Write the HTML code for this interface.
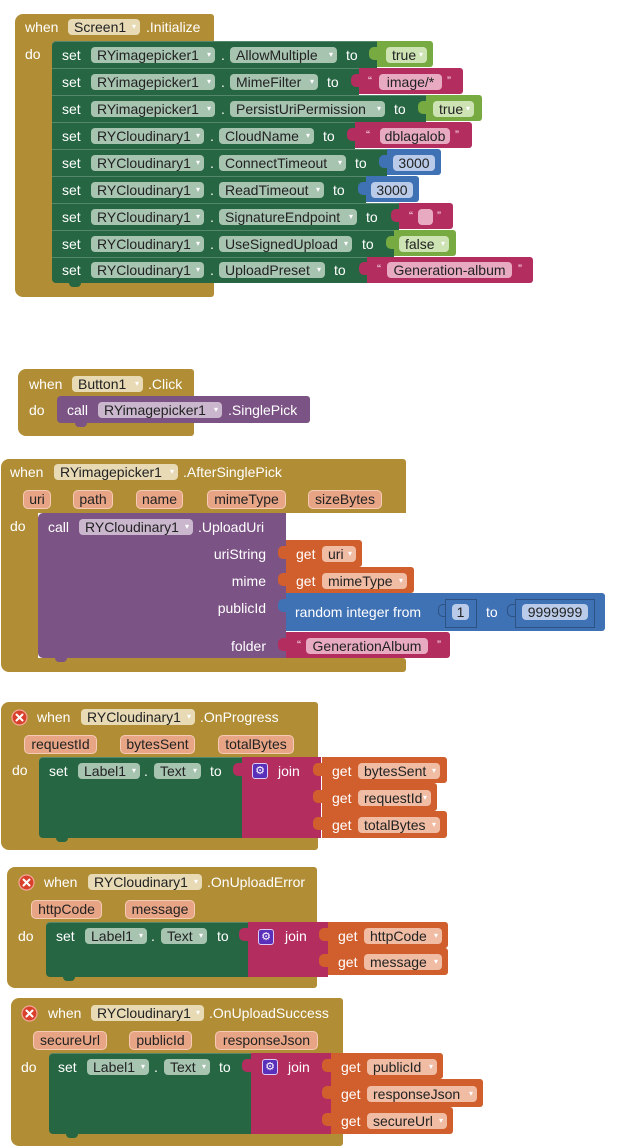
<!DOCTYPE html>
<html><head><meta charset="utf-8">
<style>
*{box-sizing:border-box}
body{margin:0;width:631px;height:1147px;background:#fff;position:relative;overflow:hidden;font-family:"Liberation Sans",Arial,sans-serif;font-size:14px}
div{position:absolute}
.t{color:#fff;line-height:16px;height:16px;white-space:nowrap}
.c{height:16px;line-height:16px;border-radius:4px;color:#222;padding-left:6px;white-space:nowrap}
.c i{position:absolute;right:4px;top:0;font-style:normal;font-family:"DejaVu Sans",sans-serif;font-size:8px;color:#fff}
.n{padding-left:0;text-align:center}
.p{height:19px;line-height:17px;border-radius:5px;background:#e8a586;border:1px solid #f5cbb6;color:#222;text-align:center;white-space:nowrap}
.q{color:#fbe3ec;font-size:12px;line-height:16px;height:16px}
.G{background:#b18e35}
.S{background:#266643;box-shadow:inset 0 1px 0 rgba(255,255,255,.22)}
.P{background:#7c5385}
.O{background:#d05f2d}
.M{background:#b32d5e}
.B{background:#3f71b5}
.L{background:#77ab41}
.cG{background:#e7dab5}
.cS{background:#a7c4b1}
.cP{background:#cab7ce}
.cO{background:#f0bca3}
.cM{background:#e8aac1}
.cB{background:#b9cbe8}
.cL{background:#cde3b4}
.tab{width:9px;height:13px;border-radius:5px 0 0 5px}
.nb{border:1px solid rgba(0,0,0,.28)}
.gear{width:16px;height:16px;background:#5a2fb9;border:1px solid #d9ccf7;border-radius:3px;color:#fff;font-family:"DejaVu Sans",sans-serif;font-size:11px;line-height:14px;text-align:center}
.notch{width:12px;height:4px;border-radius:0 0 4px 4px}
</style></head><body>

<!-- Block 1: Screen1.Initialize -->
<div class="G" style="left:15px;top:14px;width:199px;height:283px;border-radius:8px 3px 3px 8px"></div>
<div class="t" style="left:25px;top:19px">when</div>
<div class="c cG" style="left:68px;top:19px;width:72px">Screen1<i>▾</i></div>
<div class="t" style="left:146px;top:19px">.Initialize</div>
<div class="t" style="left:25px;top:46px">do</div>

<!-- R1 -->
<div class="S" style="left:52px;top:41px;width:325px;height:27px;border-radius:4px 0 0 0"></div>
<div class="t" style="left:62px;top:47px">set</div>
<div class="c cS" style="left:91px;top:47px;width:124px">RYimagepicker1<i>▾</i></div>
<div class="t" style="left:221px;top:47px">.</div>
<div class="c cS" style="left:230px;top:47px;width:107px">AllowMultiple<i>▾</i></div>
<div class="t" style="left:346px;top:47px">to</div>
<div class="tab L" style="left:369px;top:47px"></div>
<div class="L" style="left:377px;top:41px;width:56px;height:26px;border-radius:0 3px 3px 0"></div>
<div class="c cL" style="left:386px;top:47px;width:41px">true<i>▾</i></div>

<!-- R2 -->
<div class="S" style="left:52px;top:68px;width:307px;height:27px"></div>
<div class="t" style="left:62px;top:74px">set</div>
<div class="c cS" style="left:91px;top:74px;width:124px">RYimagepicker1<i>▾</i></div>
<div class="t" style="left:221px;top:74px">.</div>
<div class="c cS" style="left:230px;top:74px;width:88px">MimeFilter<i>▾</i></div>
<div class="t" style="left:327px;top:74px">to</div>
<div class="tab M" style="left:351px;top:74px"></div>
<div class="M" style="left:359px;top:68px;width:104px;height:26px;border-radius:0 3px 3px 0"></div>
<div class="q" style="left:368px;top:73px">“</div>
<div class="c cM n" style="left:379px;top:74px;width:63px">image/*</div>
<div class="q" style="left:447px;top:73px">”</div>

<!-- R3 -->
<div class="S" style="left:52px;top:95px;width:374px;height:27px"></div>
<div class="t" style="left:62px;top:101px">set</div>
<div class="c cS" style="left:91px;top:101px;width:124px">RYimagepicker1<i>▾</i></div>
<div class="t" style="left:221px;top:101px">.</div>
<div class="c cS" style="left:230px;top:101px;width:155px">PersistUriPermission<i>▾</i></div>
<div class="t" style="left:394px;top:101px">to</div>
<div class="tab L" style="left:418px;top:101px"></div>
<div class="L" style="left:426px;top:95px;width:56px;height:26px;border-radius:0 3px 3px 0"></div>
<div class="c cL" style="left:433px;top:101px;width:41px">true<i>▾</i></div>

<!-- R4 -->
<div class="S" style="left:52px;top:122px;width:303px;height:27px"></div>
<div class="t" style="left:62px;top:128px">set</div>
<div class="c cS" style="left:91px;top:128px;width:113px">RYCloudinary1<i>▾</i></div>
<div class="t" style="left:210px;top:128px">.</div>
<div class="c cS" style="left:219px;top:128px;width:95px">CloudName<i>▾</i></div>
<div class="t" style="left:323px;top:128px">to</div>
<div class="tab M" style="left:347px;top:128px"></div>
<div class="M" style="left:355px;top:122px;width:117px;height:26px;border-radius:0 3px 3px 0"></div>
<div class="q" style="left:366px;top:127px">“</div>
<div class="c cM n" style="left:380px;top:128px;width:70px">dblagalob</div>
<div class="q" style="left:455px;top:127px">”</div>

<!-- R5 -->
<div class="S" style="left:52px;top:149px;width:335px;height:27px"></div>
<div class="t" style="left:62px;top:155px">set</div>
<div class="c cS" style="left:91px;top:155px;width:113px">RYCloudinary1<i>▾</i></div>
<div class="t" style="left:210px;top:155px">.</div>
<div class="c cS" style="left:219px;top:155px;width:127px">ConnectTimeout<i>▾</i></div>
<div class="t" style="left:355px;top:155px">to</div>
<div class="tab B" style="left:379px;top:155px"></div>
<div class="B" style="left:387px;top:149px;width:54px;height:26px;border-radius:0 3px 3px 0"></div>
<div class="c cB n" style="left:393px;top:155px;width:42px">3000</div>

<!-- R6 -->
<div class="S" style="left:52px;top:176px;width:314px;height:27px"></div>
<div class="t" style="left:62px;top:182px">set</div>
<div class="c cS" style="left:91px;top:182px;width:113px">RYCloudinary1<i>▾</i></div>
<div class="t" style="left:210px;top:182px">.</div>
<div class="c cS" style="left:219px;top:182px;width:105px">ReadTimeout<i>▾</i></div>
<div class="t" style="left:333px;top:182px">to</div>
<div class="tab B" style="left:358px;top:182px"></div>
<div class="B" style="left:366px;top:176px;width:53px;height:26px;border-radius:0 3px 3px 0"></div>
<div class="c cB n" style="left:371px;top:182px;width:42px">3000</div>

<!-- R7 -->
<div class="S" style="left:52px;top:203px;width:347px;height:27px"></div>
<div class="t" style="left:62px;top:209px">set</div>
<div class="c cS" style="left:91px;top:209px;width:113px">RYCloudinary1<i>▾</i></div>
<div class="t" style="left:210px;top:209px">.</div>
<div class="c cS" style="left:219px;top:209px;width:138px">SignatureEndpoint<i>▾</i></div>
<div class="t" style="left:366px;top:209px">to</div>
<div class="tab M" style="left:391px;top:209px"></div>
<div class="M" style="left:399px;top:203px;width:54px;height:26px;border-radius:0 3px 3px 0"></div>
<div class="q" style="left:409px;top:208px">“</div>
<div class="c cM n" style="left:418px;top:209px;width:15px"></div>
<div class="q" style="left:437px;top:208px">”</div>

<!-- R8 -->
<div class="S" style="left:52px;top:230px;width:342px;height:27px"></div>
<div class="t" style="left:62px;top:236px">set</div>
<div class="c cS" style="left:91px;top:236px;width:113px">RYCloudinary1<i>▾</i></div>
<div class="t" style="left:210px;top:236px">.</div>
<div class="c cS" style="left:219px;top:236px;width:133px">UseSignedUpload<i>▾</i></div>
<div class="t" style="left:362px;top:236px">to</div>
<div class="tab L" style="left:386px;top:236px"></div>
<div class="L" style="left:394px;top:230px;width:62px;height:26px;border-radius:0 3px 3px 0"></div>
<div class="c cL" style="left:399px;top:236px;width:50px">false<i>▾</i></div>

<!-- R9 -->
<div class="S" style="left:52px;top:257px;width:315px;height:26px;border-radius:0 0 0 4px"></div>
<div class="t" style="left:62px;top:262px">set</div>
<div class="c cS" style="left:91px;top:262px;width:113px">RYCloudinary1<i>▾</i></div>
<div class="t" style="left:210px;top:262px">.</div>
<div class="c cS" style="left:219px;top:262px;width:106px">UploadPreset<i>▾</i></div>
<div class="t" style="left:334px;top:262px">to</div>
<div class="tab M" style="left:359px;top:262px"></div>
<div class="M" style="left:367px;top:257px;width:166px;height:26px;border-radius:0 3px 3px 0"></div>
<div class="q" style="left:377px;top:261px">“</div>
<div class="c cM n" style="left:387px;top:262px;width:125px">Generation-album</div>
<div class="q" style="left:518px;top:261px">”</div>
<div class="notch S" style="left:69px;top:283px;box-shadow:none"></div>

<!-- Block 2: Button1.Click -->
<div class="G" style="left:18px;top:369px;width:176px;height:67px;border-radius:8px 3px 3px 8px"></div>
<div class="t" style="left:29px;top:376px">when</div>
<div class="c cG" style="left:72px;top:376px;width:71px">Button1<i>▾</i></div>
<div class="t" style="left:148px;top:376px">.Click</div>
<div class="t" style="left:29px;top:402px">do</div>
<div class="P" style="left:57px;top:396px;width:253px;height:27px;border-radius:4px 3px 3px 4px"></div>
<div class="t" style="left:67px;top:402px">call</div>
<div class="c cP" style="left:98px;top:402px;width:124px">RYimagepicker1<i>▾</i></div>
<div class="t" style="left:228px;top:402px">.SinglePick</div>
<div class="notch P" style="left:75px;top:423px"></div>

<!-- Block 3: AfterSinglePick -->
<div class="G" style="left:1px;top:459px;width:405px;height:54px;border-radius:8px 3px 0 0"></div>
<div class="G" style="left:1px;top:512px;width:37px;height:148px"></div>
<div class="G" style="left:1px;top:658px;width:405px;height:14px;border-radius:0 3px 3px 8px"></div>
<div class="t" style="left:10px;top:464px">when</div>
<div class="c cG" style="left:54px;top:464px;width:124px">RYimagepicker1<i>▾</i></div>
<div class="t" style="left:183px;top:464px">.AfterSinglePick</div>
<div class="p" style="left:23px;top:490px;width:28px">uri</div>
<div class="p" style="left:73px;top:490px;width:40px">path</div>
<div class="p" style="left:136px;top:490px;width:47px">name</div>
<div class="p" style="left:207px;top:490px;width:79px">mimeType</div>
<div class="p" style="left:308px;top:490px;width:74px">sizeBytes</div>
<div class="t" style="left:10px;top:518px">do</div>
<div class="P" style="left:38px;top:513px;width:248px;height:145px;border-radius:5px 0 0 5px"></div>
<div class="t" style="left:48px;top:519px">call</div>
<div class="c cP" style="left:79px;top:519px;width:114px">RYCloudinary1<i>▾</i></div>
<div class="t" style="left:198px;top:519px">.UploadUri</div>
<div class="t" style="left:146px;top:546px;width:120px;text-align:right">uriString</div>
<div class="t" style="left:146px;top:573px;width:120px;text-align:right">mime</div>
<div class="t" style="left:146px;top:600px;width:120px;text-align:right">publicId</div>
<div class="t" style="left:146px;top:638px;width:120px;text-align:right">folder</div>
<div class="notch P" style="left:55px;top:658px"></div>

<div class="tab O" style="left:278px;top:546px"></div>
<div class="O" style="left:286px;top:540px;width:76px;height:27px;border-radius:0 3px 3px 0"></div>
<div class="t" style="left:296px;top:546px">get</div>
<div class="c cO" style="left:322px;top:546px;width:34px">uri<i>▾</i></div>

<div class="tab O" style="left:278px;top:573px"></div>
<div class="O" style="left:286px;top:567px;width:128px;height:26px;border-radius:0 3px 3px 0"></div>
<div class="t" style="left:296px;top:573px">get</div>
<div class="c cO" style="left:322px;top:573px;width:85px">mimeType<i>▾</i></div>

<div class="tab B" style="left:278px;top:599px"></div>
<div class="B" style="left:286px;top:593px;width:319px;height:38px;border-radius:0 3px 3px 0"></div>
<div class="t" style="left:295px;top:604px">random integer from</div>
<div class="tab B nb" style="left:438px;top:604px"></div>
<div class="B nb" style="left:445px;top:599px;width:32px;height:29px"></div>
<div class="c cB n" style="left:452px;top:604px;width:17px">1</div>
<div class="t" style="left:486px;top:604px">to</div>
<div class="tab B nb" style="left:507px;top:604px"></div>
<div class="B nb" style="left:515px;top:599px;width:80px;height:29px"></div>
<div class="c cB n" style="left:522px;top:604px;width:66px">9999999</div>

<div class="tab M" style="left:278px;top:638px"></div>
<div class="M" style="left:286px;top:632px;width:164px;height:26px;border-radius:0 3px 3px 0"></div>
<div class="q" style="left:297px;top:637px">“</div>
<div class="c cM n" style="left:306px;top:638px;width:122px">GenerationAlbum</div>
<div class="q" style="left:437px;top:637px">”</div>

<!-- Block 4: OnProgress -->
<div class="G" style="left:1px;top:702px;width:317px;height:148px;border-radius:8px 3px 3px 8px"></div>
<div style="left:11px;top:709px;width:17px;height:17px"><svg width="17" height="17"><circle cx="8.5" cy="8.5" r="7.5" fill="#d8402c" stroke="#f3a596" stroke-width="1.2"/><path d="M5.5 5.5 L11.5 11.5 M11.5 5.5 L5.5 11.5" stroke="#fff" stroke-width="2" stroke-linecap="round"/></svg></div>
<div class="t" style="left:37px;top:709px">when</div>
<div class="c cG" style="left:81px;top:709px;width:114px">RYCloudinary1<i>▾</i></div>
<div class="t" style="left:200px;top:709px">.OnProgress</div>
<div class="p" style="left:24px;top:735px;width:73px">requestId</div>
<div class="p" style="left:120px;top:735px;width:75px">bytesSent</div>
<div class="p" style="left:218px;top:735px;width:76px">totalBytes</div>
<div class="t" style="left:12px;top:762px">do</div>
<div class="S" style="left:39px;top:757px;width:203px;height:81px;border-radius:4px 0 0 4px"></div>
<div class="t" style="left:49px;top:763px">set</div>
<div class="c cS" style="left:78px;top:763px;width:62px">Label1<i>▾</i></div>
<div class="t" style="left:144px;top:763px">.</div>
<div class="c cS" style="left:154px;top:763px;width:47px">Text<i>▾</i></div>
<div class="t" style="left:210px;top:763px">to</div>
<div class="tab M" style="left:233px;top:763px"></div>
<div class="M" style="left:242px;top:757px;width:79px;height:81px"></div>
<div class="gear" style="left:252px;top:763px">⚙</div>
<div class="t" style="left:278px;top:763px">join</div>
<div class="tab O" style="left:313px;top:763px"></div>
<div class="O" style="left:322px;top:757px;width:125px;height:26px;border-radius:0 3px 3px 0"></div>
<div class="t" style="left:332px;top:763px">get</div>
<div class="c cO" style="left:358px;top:763px;width:82px">bytesSent<i>▾</i></div>
<div class="tab O" style="left:313px;top:790px"></div>
<div class="O" style="left:322px;top:783px;width:115px;height:28px;border-radius:0 3px 3px 0"></div>
<div class="t" style="left:332px;top:790px">get</div>
<div class="c cO" style="left:358px;top:790px;width:73px">requestId<i>▾</i></div>
<div class="tab O" style="left:313px;top:817px"></div>
<div class="O" style="left:322px;top:811px;width:125px;height:27px;border-radius:0 3px 3px 0"></div>
<div class="t" style="left:332px;top:817px">get</div>
<div class="c cO" style="left:358px;top:817px;width:82px">totalBytes<i>▾</i></div>
<div class="notch S" style="left:56px;top:838px;box-shadow:none"></div>

<!-- Block 5: OnUploadError -->
<div class="G" style="left:7px;top:867px;width:310px;height:121px;border-radius:8px 3px 3px 8px"></div>
<div style="left:18px;top:874px;width:17px;height:17px"><svg width="17" height="17"><circle cx="8.5" cy="8.5" r="7.5" fill="#d8402c" stroke="#f3a596" stroke-width="1.2"/><path d="M5.5 5.5 L11.5 11.5 M11.5 5.5 L5.5 11.5" stroke="#fff" stroke-width="2" stroke-linecap="round"/></svg></div>
<div class="t" style="left:44px;top:874px">when</div>
<div class="c cG" style="left:88px;top:874px;width:114px">RYCloudinary1<i>▾</i></div>
<div class="t" style="left:207px;top:874px">.OnUploadError</div>
<div class="p" style="left:31px;top:900px;width:71px">httpCode</div>
<div class="p" style="left:125px;top:900px;width:70px">message</div>
<div class="t" style="left:18px;top:928px">do</div>
<div class="S" style="left:46px;top:922px;width:202px;height:55px;border-radius:4px 0 0 4px"></div>
<div class="t" style="left:56px;top:928px">set</div>
<div class="c cS" style="left:85px;top:928px;width:62px">Label1<i>▾</i></div>
<div class="t" style="left:151px;top:928px">.</div>
<div class="c cS" style="left:161px;top:928px;width:46px">Text<i>▾</i></div>
<div class="t" style="left:217px;top:928px">to</div>
<div class="tab M" style="left:239px;top:928px"></div>
<div class="M" style="left:248px;top:922px;width:80px;height:55px"></div>
<div class="gear" style="left:258px;top:929px">⚙</div>
<div class="t" style="left:285px;top:928px">join</div>
<div class="tab O" style="left:319px;top:928px"></div>
<div class="O" style="left:328px;top:922px;width:120px;height:26px;border-radius:0 3px 3px 0"></div>
<div class="t" style="left:338px;top:928px">get</div>
<div class="c cO" style="left:364px;top:928px;width:78px">httpCode<i>▾</i></div>
<div class="tab O" style="left:319px;top:954px"></div>
<div class="O" style="left:328px;top:948px;width:120px;height:27px;border-radius:0 3px 3px 0"></div>
<div class="t" style="left:338px;top:954px">get</div>
<div class="c cO" style="left:364px;top:954px;width:78px">message<i>▾</i></div>
<div class="notch S" style="left:63px;top:977px;box-shadow:none"></div>

<!-- Block 6: OnUploadSuccess -->
<div class="G" style="left:11px;top:998px;width:332px;height:148px;border-radius:8px 3px 3px 8px"></div>
<div style="left:21px;top:1005px;width:17px;height:17px"><svg width="17" height="17"><circle cx="8.5" cy="8.5" r="7.5" fill="#d8402c" stroke="#f3a596" stroke-width="1.2"/><path d="M5.5 5.5 L11.5 11.5 M11.5 5.5 L5.5 11.5" stroke="#fff" stroke-width="2" stroke-linecap="round"/></svg></div>
<div class="t" style="left:48px;top:1005px">when</div>
<div class="c cG" style="left:91px;top:1005px;width:113px">RYCloudinary1<i>▾</i></div>
<div class="t" style="left:209px;top:1005px">.OnUploadSuccess</div>
<div class="p" style="left:33px;top:1031px;width:74px">secureUrl</div>
<div class="p" style="left:129px;top:1031px;width:63px">publicId</div>
<div class="p" style="left:215px;top:1031px;width:103px">responseJson</div>
<div class="t" style="left:21px;top:1059px">do</div>
<div class="S" style="left:49px;top:1053px;width:202px;height:81px;border-radius:4px 0 0 4px"></div>
<div class="t" style="left:58px;top:1059px">set</div>
<div class="c cS" style="left:87px;top:1059px;width:62px">Label1<i>▾</i></div>
<div class="t" style="left:154px;top:1059px">.</div>
<div class="c cS" style="left:164px;top:1059px;width:46px">Text<i>▾</i></div>
<div class="t" style="left:219px;top:1059px">to</div>
<div class="tab M" style="left:242px;top:1059px"></div>
<div class="M" style="left:251px;top:1053px;width:80px;height:81px"></div>
<div class="gear" style="left:262px;top:1059px">⚙</div>
<div class="t" style="left:288px;top:1059px">join</div>
<div class="tab O" style="left:322px;top:1059px"></div>
<div class="O" style="left:331px;top:1053px;width:112px;height:26px;border-radius:0 3px 3px 0"></div>
<div class="t" style="left:341px;top:1059px">get</div>
<div class="c cO" style="left:367px;top:1059px;width:70px">publicId<i>▾</i></div>
<div class="tab O" style="left:322px;top:1086px"></div>
<div class="O" style="left:331px;top:1079px;width:152px;height:28px;border-radius:0 3px 3px 0"></div>
<div class="t" style="left:341px;top:1086px">get</div>
<div class="c cO" style="left:367px;top:1086px;width:110px">responseJson<i>▾</i></div>
<div class="tab O" style="left:322px;top:1113px"></div>
<div class="O" style="left:331px;top:1107px;width:122px;height:27px;border-radius:0 3px 3px 0"></div>
<div class="t" style="left:341px;top:1113px">get</div>
<div class="c cO" style="left:367px;top:1113px;width:80px">secureUrl<i>▾</i></div>
<div class="notch S" style="left:66px;top:1134px;box-shadow:none"></div>

</body></html>
